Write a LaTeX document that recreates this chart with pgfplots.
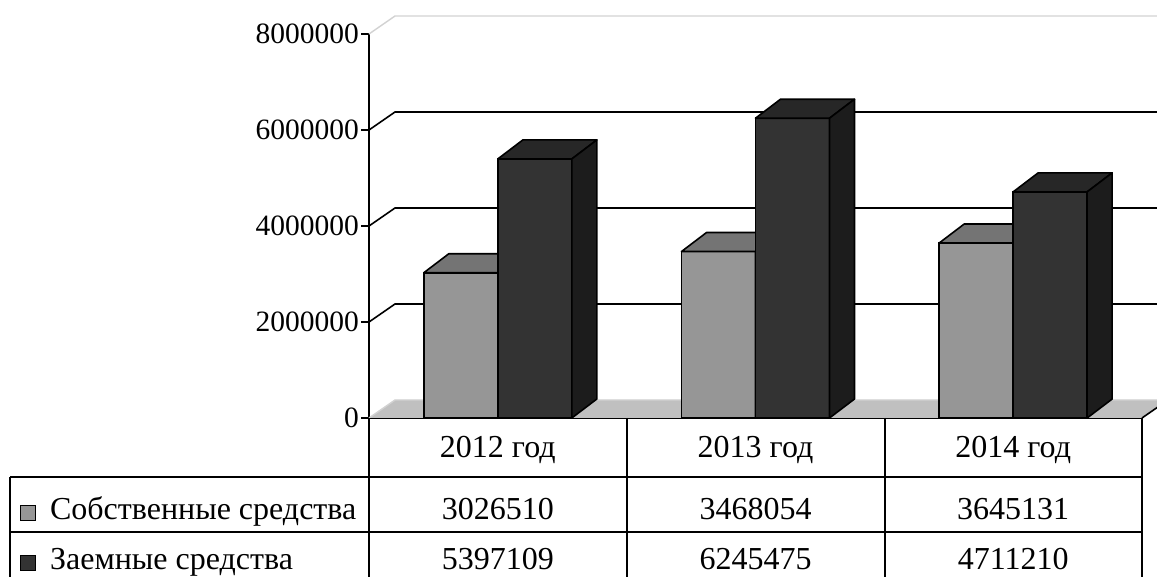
\documentclass[border=0pt]{standalone}
\usepackage{pgfplots}
\pgfplotsset{compat=1.18}
\usepackage{pgfplotstable}
\usepackage{fontspec}
\setmainfont{Liberation Serif}

\definecolor{ownfront}{HTML}{969696}
\definecolor{owntop}{HTML}{747474}
\definecolor{ownside}{HTML}{5E5E5E}
\definecolor{loanfront}{HTML}{333333}
\definecolor{loantop}{HTML}{272727}
\definecolor{loanside}{HTML}{1C1C1C}
\definecolor{floorgray}{HTML}{C0C0C0}
\definecolor{walledge}{HTML}{D2D2D2}

% funds by year: own and borrowed
\pgfplotstableread{
idx own loan
0 3026510 5397109
1 3468054 6245475
2 3645131 4711210
}\funds

\pgfdeclareplotmark{void}{}

% one box: #1/#2 left/right edge of the front face (pt from the category
% centre), #3 #4 #5 front/top/side colours, #6 height in pt
\newcommand\boxbar[6]{%
  \draw[line width=1.6pt, fill=#3] (#1pt,-#6pt) rectangle (#2pt,0pt);
  \draw[line width=1.6pt, line join=round, fill=#4] (#1pt,0pt) -- (#2pt,0pt) -- (#2pt+25pt,19pt) -- (#1pt+25pt,19pt) -- cycle;
  \draw[line width=1.6pt, line join=round, fill=#5] (#2pt,0pt) -- (#2pt,-#6pt) -- (#2pt+25pt,-#6pt+19pt) -- (#2pt+25pt,19pt) -- cycle;
}

\newcommand\legsq[1]{{\setlength\fboxsep{0pt}\setlength\fboxrule{1.2pt}\fcolorbox{black}{#1}{\rule{0pt}{14pt}\rule{13.5pt}{0pt}}}}

\newcommand\tabfont{\fontsize{32}{37}\selectfont}

\begin{document}
\begin{tikzpicture}[font=\tabfont]
\begin{axis}[
  at={(369pt,159pt)}, anchor=south west,
  scale only axis, width=773pt, height=384pt,
  xmin=-0.5, xmax=2.5, ymin=0, ymax=8000000,
  axis x line*=bottom, axis y line*=left,
  axis line style={-, line width=1.6pt, black},
  xtick={0,1,2}, xticklabels={2012 год,2013 год,2014 год},
  xtick pos=bottom, xtick align=inside, x tick style={draw=none},
  xticklabel style={anchor=base, yshift=-40pt, font=\tabfont},
  ytick={0,2000000,4000000,6000000,8000000},
  ytick pos=left, ytick align=outside, major tick length=8pt,
  y tick style={line width=1.6pt, black},
  scaled y ticks=false,
  yticklabel style={/pgf/number format/fixed, /pgf/number format/1000 sep={},
    /pgf/number format/assume math mode=true,
    font=\fontsize{29.5}{34}\selectfont, inner sep=2pt},
  clip=false,
]
% floor
\fill[floorgray] (axis cs:-0.5,0) -- (axis cs:2.5,0)
  -- ([shift={(26pt,18pt)}]axis cs:2.5,0) -- ([shift={(26pt,18pt)}]axis cs:-0.5,0) -- cycle;
\draw[walledge, line width=1.4pt] (axis cs:-0.5,0) -- ++(26pt,18pt)
  -- ([shift={(26pt,18pt)}]axis cs:2.5,0);
\draw[black, line width=1.6pt] (axis cs:2.5,0) -- ++(26pt,18pt);
% back wall grid
\pgfplotsinvokeforeach{2000000,4000000,6000000}{
  \draw[black, line width=1.6pt] (axis cs:-0.5,#1) -- ++(26pt,18pt)
    -- ([shift={(26pt,18pt)}]axis cs:2.5,#1);
}
\draw[walledge, line width=1.4pt] (axis cs:-0.5,8000000) -- ++(26pt,18pt)
  -- ([shift={(26pt,18pt)}]axis cs:2.5,8000000);

% bars: 384pt for 8000000
\addplot[scatter, only marks, mark=void,
  visualization depends on={\thisrow{own}*0.000048 \as \barh},
  scatter/@pre marker code/.code={\boxbar{-74}{0}{ownfront}{owntop}{ownside}{\barh}},
  scatter/@post marker code/.code={}]
  table[x=idx, y=own] {\funds};
\addplot[scatter, only marks, mark=void,
  visualization depends on={\thisrow{loan}*0.000048 \as \barh},
  scatter/@pre marker code/.code={\boxbar{0}{74}{loanfront}{loantop}{loanside}{\barh}},
  scatter/@post marker code/.code={}]
  table[x=idx, y=loan] {\funds};

% data table rows
\addplot[draw=none, mark=none, point meta=explicit symbolic, nodes near coords,
  every node near coord/.append style={anchor=base, yshift=-102pt, inner sep=0pt, font=\tabfont, text=black}]
  table[x=idx, y expr=0, meta=own] {\funds};
\addplot[draw=none, mark=none, point meta=explicit symbolic, nodes near coords,
  every node near coord/.append style={anchor=base, yshift=-152pt, inner sep=0pt, font=\tabfont, text=black}]
  table[x=idx, y expr=0, meta=loan] {\funds};
\end{axis}

% table grid
\draw[line width=1.6pt] (10pt,100pt) -- (1142pt,100pt)
  (10pt,45pt) -- (1142pt,45pt)
  (10pt,100pt) -- (10pt,-5pt)
  (369pt,159pt) -- (369pt,-5pt)
  (627pt,159pt) -- (627pt,-5pt)
  (885pt,159pt) -- (885pt,-5pt)
  (1142pt,159pt) -- (1142pt,-5pt);
\node[anchor=base west, inner sep=0pt] at (20pt,57pt) {\legsq{ownfront}\hspace{14pt}Собственные средства};
\node[anchor=base west, inner sep=0pt] at (20pt,7pt) {\legsq{loanfront}\hspace{14pt}Заемные средства};

\pgfresetboundingbox
\path[use as bounding box] (0,0) rectangle (1157pt,577pt);
\end{tikzpicture}
\end{document}
